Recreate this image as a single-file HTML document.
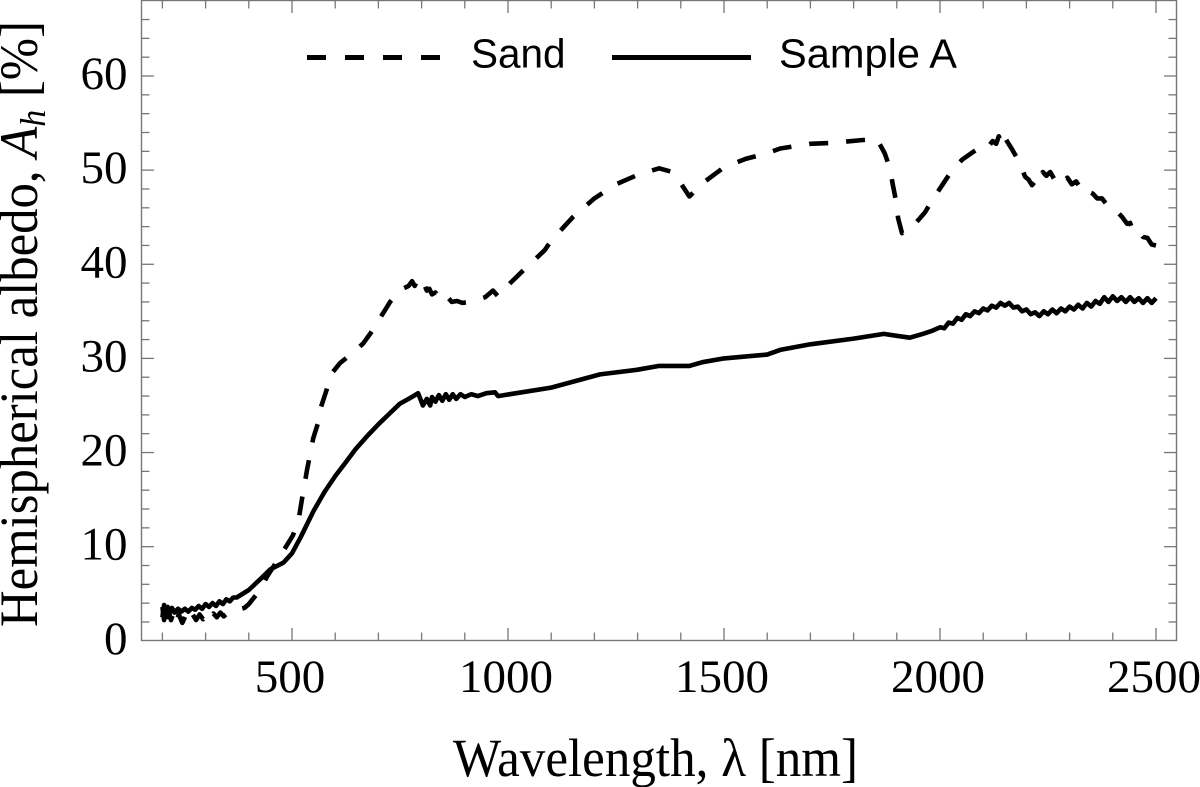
<!DOCTYPE html>
<html lang="en">
<head>
<meta charset="utf-8">
<title>Hemispherical albedo chart</title>
<style>
html,body{margin:0;padding:0;background:#fff;width:1200px;height:787px;overflow:hidden}
svg{display:block}
.serif{font-family:"Liberation Serif",serif;fill:#000}
.sans{font-family:"Liberation Sans",sans-serif;fill:#000}
</style>
</head>
<body>
<svg id="chart" xmlns="http://www.w3.org/2000/svg" width="1200" height="787" viewBox="0 0 1200 787">
  <rect x="0" y="0" width="1200" height="787" fill="#fff"/>
  <g id="ticks"></g>
  <rect x="141.5" y="0.5" width="1035" height="640" fill="none" stroke="#777" stroke-width="1.4"/>
  <g id="tick-labels"></g>
  <path id="sand-line" fill="none" stroke="#000" stroke-width="4.6" stroke-dasharray="19 18" stroke-linejoin="round"/>
  <path id="sample-line" fill="none" stroke="#000" stroke-width="4.6" stroke-linejoin="round"/>
  <text class="serif" x="453" y="776" font-size="54" textLength="405" lengthAdjust="spacingAndGlyphs">Wavelength, λ [nm]</text>
  <text class="serif" transform="translate(37 627) rotate(-90)" x="0" y="0" font-size="54" textLength="606" lengthAdjust="spacingAndGlyphs">Hemispherical albedo, <tspan font-style="italic">A</tspan><tspan font-style="italic" font-size="36" dy="8">h</tspan><tspan dy="-8"> [%]</tspan></text>
  <g>
    <line x1="307" y1="57.5" x2="443" y2="57.5" stroke="#000" stroke-width="5" stroke-dasharray="19 19"/>
    <text class="sans" x="471" y="67.5" font-size="40.5">Sand</text>
    <line x1="612" y1="57.5" x2="751" y2="57.5" stroke="#000" stroke-width="5"/>
    <text class="sans" x="779" y="67.5" font-size="41" textLength="178" lengthAdjust="spacingAndGlyphs">Sample A</text>
  </g>
</svg>
<script>
const xTickValues = [500, 1000, 1500, 2000, 2500];
const xTickLabels = ["500", "1000", "1500", "2000", "2500"];
const yTickValues = [0, 10, 20, 30, 40, 50, 60];
const yTickLabels = ["0", "10", "20", "30", "40", "50", "60"];

const sandWavelengths = [200,204,208,212,216,220,226,232,238,246,254,262,270,278,286,294,302,310,318,326,334,342,350,360,375,390,400,426,442,470,502,515,523,535,549,560,567,579,592,611,641,665,690,708,727,752,770,778,784,790,796,804,812,818,824,832,840,848,854,862,870,882,895,912,947,965,977,1005,1032,1062,1085,1100,1150,1200,1250,1300,1350,1380,1400,1420,1450,1500,1550,1600,1630,1700,1750,1822,1854,1872,1884,1891,1898,1903,1912,1944,1965,1986,2005,2028,2051,2079,2102,2112,2122,2130,2136,2142,2148,2156,2167,2183,2197,2205,2213,2222,2230,2238,2246,2255,2264,2274,2285,2295,2305,2315,2324,2334,2344,2354,2364,2375,2385,2395,2405,2412,2422,2433,2440,2447,2458,2470,2480,2490,2500];
const sandValues = [3.6,2.2,3.2,2.0,3.0,2.2,3.0,2.0,2.8,1.9,2.7,2.0,2.8,2.2,2.8,2.3,2.8,2.3,2.9,2.5,3.0,2.6,2.9,2.9,3.3,3.5,3.9,5.4,6.8,8.8,11.2,12.8,15,18.2,21.5,23.1,24.8,26.5,28.4,29.5,30.6,31.6,33.2,34.6,36,37.3,37.7,38.2,37.7,38.3,37.8,38.1,37.2,37.4,36.8,37.0,36.5,36.7,36.2,36.4,36.0,36.1,35.9,36,36.5,37.2,36.6,38,39.2,40.5,41.5,42.5,45,47,48.5,49.5,50.2,49.8,48.6,47.2,48.6,50.3,51.2,51.8,52.3,52.8,52.9,53.2,53.3,51.8,50.2,48.4,46.8,44.9,43.3,44.4,45.5,47.1,48.4,50,51.1,52,52.7,52.5,53.1,52.8,53.6,52.9,53.7,53.0,52.2,50.9,49.3,49.0,48.4,48.9,48.6,49.8,49.4,49.8,49.1,49.5,48.8,49.2,48.5,48.8,48.2,48.4,47.7,47.5,47.0,47.0,46.4,46.3,45.7,45.5,45.0,44.3,44.4,43.5,43.6,42.9,42.8,42.1,42.0,41.6,41.2];

const sampleWavelengths = [200,204,208,212,216,222,228,236,244,252,260,268,276,284,292,300,308,316,324,332,340,348,356,364,372,400,430,450,480,500,520,550,575,600,625,646,675,700,725,750,770,785,792,798,803,812,820,824,832,840,848,856,864,872,880,890,900,915,930,950,970,977,1100,1213,1300,1350,1420,1450,1500,1600,1630,1700,1800,1870,1930,1960,1980,2000,2010,2020,2030,2040,2050,2060,2070,2080,2090,2100,2110,2120,2130,2140,2150,2160,2170,2180,2190,2200,2210,2220,2230,2240,2250,2260,2270,2280,2290,2300,2310,2320,2330,2340,2350,2360,2370,2380,2390,2400,2410,2420,2430,2440,2450,2460,2470,2480,2490,2500];
const sampleValues = [2.5,3.8,2.8,3.6,3.0,3.5,3.0,3.4,3.1,3.4,3.1,3.5,3.3,3.7,3.4,3.9,3.6,4.0,3.7,4.2,3.9,4.4,4.2,4.6,4.6,5.4,6.7,7.6,8.3,9.3,11,13.8,15.8,17.5,19,20.3,21.8,23,24.1,25.2,25.7,26.1,26.3,25.6,25,25.7,25,25.9,25.4,26.1,25.5,26.2,25.6,26.2,25.7,26.2,25.9,26.2,26.0,26.3,26.4,26,26.9,28.3,28.8,29.2,29.2,29.6,30,30.4,30.9,31.5,32.1,32.6,32.2,32.6,32.9,33.3,33.2,33.8,33.7,34.3,34.1,34.7,34.5,35.0,34.8,35.3,35.1,35.6,35.4,35.9,35.6,35.9,35.4,35.5,35.0,35.2,34.7,34.9,34.5,35.0,34.7,35.2,34.8,35.3,35.0,35.5,35.2,35.7,35.3,35.9,35.5,36.1,35.8,36.5,36.0,36.6,36.1,36.5,36.0,36.5,36.0,36.4,35.9,36.4,35.9,36.4];

const svgNS = "http://www.w3.org/2000/svg";
const plot = { left: 141.5, right: 1176.5, top: 0.5, bottom: 640.5 };
function xScale(v) { return 292 + (v - 500) * 0.432; }
function yScale(v) { return 640.8 - v * 9.413; }

function linePath(xs, ys) {
  return xs.map(function (x, i) {
    return (i ? "L" : "M") + xScale(x).toFixed(1) + " " + yScale(ys[i]).toFixed(1);
  }).join("");
}
document.getElementById("sand-line").setAttribute("d", linePath(sandWavelengths, sandValues));
document.getElementById("sample-line").setAttribute("d", linePath(sampleWavelengths, sampleValues));

const tickGroup = document.getElementById("ticks");
function tick(x1, y1, x2, y2, name) {
  const l = document.createElementNS(svgNS, "line");
  l.setAttribute("x1", x1);
  l.setAttribute("y1", y1);
  l.setAttribute("x2", x2);
  l.setAttribute("y2", y2);
  l.setAttribute("stroke", "#777");
  l.setAttribute("stroke-width", "1.3");
  
  
  tickGroup.appendChild(l);
}
for (let w = 200; w <= 2500; w += 100) {
  const len = xTickValues.indexOf(w) >= 0 ? 12.5 : 8;
  const px = xScale(w);
  tick(px, plot.bottom, px, plot.bottom - len, "x-tick-bottom");
  tick(px, plot.top, px, plot.top + len, "x-tick-top");
}
for (let v = 2; v <= 66; v += 2) {
  const len = yTickValues.indexOf(v) >= 0 ? 12.5 : 8;
  const py = yScale(v);
  tick(plot.left, py, plot.left + len, py, "y-tick-left");
  tick(plot.right, py, plot.right - len, py, "y-tick-right");
}

const labelGroup = document.getElementById("tick-labels");
function label(str, x, y, anchor, name) {
  const t = document.createElementNS(svgNS, "text");
  t.setAttribute("x", x);
  t.setAttribute("y", y);
  t.setAttribute("text-anchor", anchor);
  t.setAttribute("font-size", "47");
  t.setAttribute("class", "serif");
  
  
  t.textContent = str;
  labelGroup.appendChild(t);
}
xTickValues.forEach(function (v, i) {
  label(xTickLabels[i], xScale(v) - 2, 692, "middle", "x-tick-label");
});
yTickValues.forEach(function (v, i) {
  label(yTickLabels[i], 127.5, yScale(v) + 13, "end", "y-tick-label");
});
</script>
</body>
</html>
